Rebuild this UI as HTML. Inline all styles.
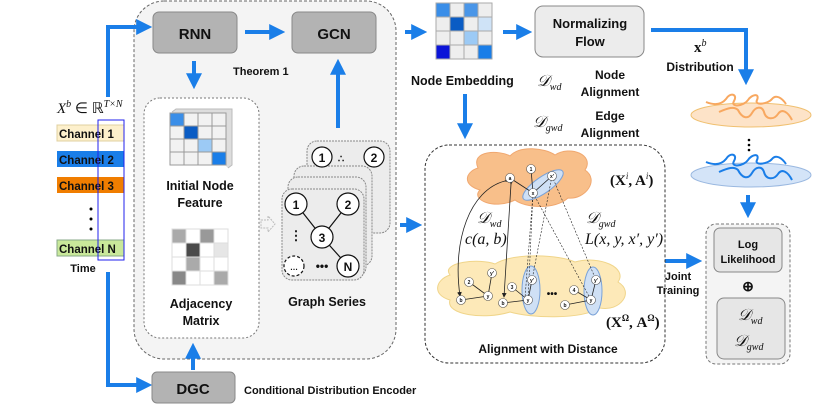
<!DOCTYPE html>
<html><head><meta charset="utf-8"><style>
html,body{margin:0;padding:0;background:#fff}
svg{display:block}
text{font-family:"Liberation Sans",sans-serif;font-weight:bold;fill:#111}
.m{font-family:"Liberation Serif",serif;font-style:italic;font-weight:normal}
.s{font-family:"Liberation Serif",serif;font-weight:bold}
</style></head><body>
<svg width="831" height="406" viewBox="0 0 831 406" xmlns="http://www.w3.org/2000/svg">
<defs>
<marker id="ah" markerWidth="4" markerHeight="4" refX="2.2" refY="2" orient="auto" markerUnits="strokeWidth"><path d="M0,0 L4,2 L0,4 Z" fill="#1a7ee8"/></marker>
<marker id="sa" markerWidth="6" markerHeight="6" refX="5" refY="3" orient="auto"><path d="M0,0 L6,3 L0,6 Z" fill="#222"/></marker>
</defs>
<rect x="134" y="1" width="262" height="358" rx="30" fill="#f4f4f4" stroke="#666" stroke-dasharray="3,2"/>
<rect x="153" y="12" width="84" height="41" rx="6" fill="#b3b3b3" stroke="#888"/>
<text x="195" y="39" font-size="15" text-anchor="middle" font-weight="normal">RNN</text>
<rect x="292" y="12" width="84" height="41" rx="6" fill="#b3b3b3" stroke="#888"/>
<text x="334" y="39" font-size="15" text-anchor="middle" font-weight="normal">GCN</text>
<g stroke="#1a7ee8" stroke-width="4" fill="none" marker-end="url(#ah)">
<line x1="245" y1="32" x2="278" y2="32"/>
<line x1="194" y1="61" x2="194" y2="82"/>
<line x1="338" y1="128" x2="338" y2="66"/>
<line x1="193" y1="370" x2="193" y2="350"/>
<path d="M108,97 L108,27 L145,27"/>
<path d="M108,272 L108,385 L145,385"/>
<line x1="405" y1="32" x2="420" y2="32"/>
<line x1="503" y1="32" x2="525" y2="32"/>
<path d="M651,30 L746,30 L746,78"/>
<line x1="465" y1="94" x2="465" y2="132"/>
<line x1="400" y1="225" x2="415" y2="225"/>
<line x1="652" y1="261" x2="695" y2="261"/>
<line x1="748" y1="195" x2="748" y2="211"/>
</g>
<text x="233" y="75" font-size="11">Theorem 1</text>
<rect x="144" y="98" width="115" height="240" rx="16" fill="#fff" stroke="#777" stroke-dasharray="2,2"/>
<path d="M172,112 l4,-3 h56 v56 l-4,3" fill="#ddd" stroke="#bbb"/>
<g stroke="#999" stroke-width="1">
<rect x="170" y="113" width="14" height="13" fill="#3a8ee8"/><rect x="184" y="113" width="14" height="13" fill="#f2f2f2"/><rect x="198" y="113" width="14" height="13" fill="#f2f2f2"/><rect x="212" y="113" width="14" height="13" fill="#f2f2f2"/>
<rect x="170" y="126" width="14" height="13" fill="#f2f2f2"/><rect x="184" y="126" width="14" height="13" fill="#0a5cc4"/><rect x="198" y="126" width="14" height="13" fill="#f2f2f2"/><rect x="212" y="126" width="14" height="13" fill="#f2f2f2"/>
<rect x="170" y="139" width="14" height="13" fill="#f2f2f2"/><rect x="184" y="139" width="14" height="13" fill="#f2f2f2"/><rect x="198" y="139" width="14" height="13" fill="#9ccaf5"/><rect x="212" y="139" width="14" height="13" fill="#f2f2f2"/>
<rect x="170" y="152" width="14" height="13" fill="#f2f2f2"/><rect x="184" y="152" width="14" height="13" fill="#f2f2f2"/><rect x="198" y="152" width="14" height="13" fill="#f2f2f2"/><rect x="212" y="152" width="14" height="13" fill="#1a7ee8"/>
</g>
<text x="200" y="190" font-size="12.5" text-anchor="middle">Initial Node</text>
<text x="200" y="207" font-size="12.5" text-anchor="middle">Feature</text>
<g stroke="#ddd" stroke-width="1">
<rect x="172" y="229" width="14" height="14" fill="#aaa"/><rect x="186" y="229" width="14" height="14" fill="#fff"/><rect x="200" y="229" width="14" height="14" fill="#999"/><rect x="214" y="229" width="14" height="14" fill="#fff"/>
<rect x="172" y="243" width="14" height="14" fill="#fff"/><rect x="186" y="243" width="14" height="14" fill="#4a4a4a"/><rect x="200" y="243" width="14" height="14" fill="#fff"/><rect x="214" y="243" width="14" height="14" fill="#e6e6e6"/>
<rect x="172" y="257" width="14" height="14" fill="#fff"/><rect x="186" y="257" width="14" height="14" fill="#aaa"/><rect x="200" y="257" width="14" height="14" fill="#fff"/><rect x="214" y="257" width="14" height="14" fill="#fff"/>
<rect x="172" y="271" width="14" height="14" fill="#888"/><rect x="186" y="271" width="14" height="14" fill="#fff"/><rect x="200" y="271" width="14" height="14" fill="#fff"/><rect x="214" y="271" width="14" height="14" fill="#aaa"/>
</g>
<text x="201" y="308" font-size="12.5" text-anchor="middle">Adjacency</text>
<text x="201" y="325" font-size="12.5" text-anchor="middle">Matrix</text>
<path d="M261,220 h7 v-4 l7,8 l-7,8 v-4 h-7 z" fill="none" stroke="#bbb" stroke-dasharray="2,1"/>
<g stroke="#888" stroke-dasharray="2,1" fill="#ececec">
<rect x="307" y="141" width="83" height="92" rx="10"/>
<rect x="294" y="166" width="78" height="100" rx="10"/>
<rect x="288" y="177" width="78" height="100" rx="10"/>
<rect x="282" y="189" width="82" height="91" rx="10"/>
</g>
<g stroke="#111" stroke-width="1.2" fill="#fff">
<circle cx="322" cy="157" r="10"/><circle cx="374" cy="157" r="10"/>
<line x1="296" y1="204" x2="322" y2="237"/><line x1="348" y1="204" x2="322" y2="237"/><line x1="322" y1="237" x2="348" y2="266"/>
<circle cx="296" cy="204" r="11"/><circle cx="348" cy="204" r="11"/><circle cx="322" cy="237" r="11"/><circle cx="348" cy="266" r="11"/>
<circle cx="294" cy="266" r="10" stroke-dasharray="3,2"/>
</g>
<text x="322" y="162" font-size="12" text-anchor="middle" fill="#9bc1f0" font-weight="normal">1</text>
<text x="374" y="162" font-size="12" text-anchor="middle" fill="#6a9ae8" font-weight="normal">2</text>
<text x="341" y="162" font-size="10" text-anchor="middle">∴</text>
<text x="296" y="209" font-size="12" text-anchor="middle" fill="#1414e6">1</text>
<text x="348" y="209" font-size="12" text-anchor="middle" fill="#1414e6">2</text>
<text x="322" y="242" font-size="12" text-anchor="middle" fill="#1414e6">3</text>
<text x="348" y="271" font-size="12" text-anchor="middle" fill="#1414e6">N</text>
<text x="294" y="270" font-size="8" text-anchor="middle" fill="#1414e6">…</text>
<text x="296" y="240" font-size="13" text-anchor="middle">⋮</text>
<text x="322" y="270" font-size="12" text-anchor="middle">•••</text>
<text x="327" y="306" font-size="12.5" text-anchor="middle">Graph Series</text>
<text x="57" y="113" font-size="15" class="m">X<tspan font-size="10" dy="-6">b</tspan><tspan dy="6" font-style="normal"> ∈ ℝ</tspan><tspan font-size="10" dy="-6">T×N</tspan></text>
<rect x="57" y="125" width="67" height="16" fill="#fdf0cc" stroke="#e0d0a0"/>
<rect x="57" y="151" width="67" height="16" fill="#1a7ee8"/>
<rect x="57" y="177" width="67" height="16" fill="#f07d00"/>
<rect x="57" y="240" width="67" height="16" fill="#c9e89a" stroke="#8a8"/>
<text x="59" y="138" font-size="11.5" font-weight="normal">Channel 1</text>
<text x="59" y="164" font-size="11.5" font-weight="normal">Channel 2</text>
<text x="59" y="190" font-size="11.5" font-weight="normal">Channel 3</text>
<text x="59" y="253" font-size="11.5" font-weight="normal">Channel N</text>
<circle cx="91" cy="209" r="1.5" fill="#000"/><circle cx="91" cy="219" r="1.5" fill="#000"/><circle cx="91" cy="229" r="1.5" fill="#000"/>
<rect x="98" y="120" width="26" height="140" fill="none" stroke="#2222ee" stroke-width="1"/>
<text x="83" y="272" font-size="11" text-anchor="middle" font-weight="normal">Time</text>
<rect x="152" y="372" width="83" height="31" rx="5" fill="#b3b3b3" stroke="#888"/>
<text x="193" y="394" font-size="15" text-anchor="middle" font-weight="normal">DGC</text>
<text x="244" y="394" font-size="11">Conditional Distribution Encoder</text>
<g stroke="#aaa">
<rect x="436" y="3" width="14" height="14" fill="#3a8ee8"/><rect x="450" y="3" width="14" height="14" fill="#eee"/><rect x="464" y="3" width="14" height="14" fill="#4a96e8"/><rect x="478" y="3" width="14" height="14" fill="#eee"/>
<rect x="436" y="17" width="14" height="14" fill="#eee"/><rect x="450" y="17" width="14" height="14" fill="#0a5cc4"/><rect x="464" y="17" width="14" height="14" fill="#eee"/><rect x="478" y="17" width="14" height="14" fill="#cfe3f7"/>
<rect x="436" y="31" width="14" height="14" fill="#eee"/><rect x="450" y="31" width="14" height="14" fill="#eee"/><rect x="464" y="31" width="14" height="14" fill="#9ccaf5"/><rect x="478" y="31" width="14" height="14" fill="#eee"/>
<rect x="436" y="45" width="14" height="14" fill="#0b14d8"/><rect x="450" y="45" width="14" height="14" fill="#eee"/><rect x="464" y="45" width="14" height="14" fill="#eee"/><rect x="478" y="45" width="14" height="14" fill="#1a7ee8"/>
</g>
<text x="411" y="85" font-size="12.5">Node Embedding</text>
<rect x="535" y="6" width="109" height="51" rx="8" fill="#ececec" stroke="#888"/>
<text x="590" y="28" font-size="13" text-anchor="middle">Normalizing</text>
<text x="590" y="46" font-size="13" text-anchor="middle">Flow</text>
<text x="694" y="52" font-size="15" class="s">x<tspan class="m" font-size="10" dy="-6">b</tspan></text>
<text x="700" y="71" font-size="12" text-anchor="middle">Distribution</text>
<text x="537" y="86" font-size="16" class="m">𝒟<tspan font-size="10" dy="4">wd</tspan></text>
<text x="610" y="79" font-size="12" text-anchor="middle">Node</text>
<text x="610" y="96" font-size="12" text-anchor="middle">Alignment</text>
<text x="533" y="127" font-size="16" class="m">𝒟<tspan font-size="10" dy="4">gwd</tspan></text>
<text x="610" y="120" font-size="12" text-anchor="middle">Edge</text>
<text x="610" y="137" font-size="12" text-anchor="middle">Alignment</text>
<rect x="425" y="145" width="240" height="218" rx="24" fill="#fff" stroke="#333" stroke-dasharray="3,2"/>
<path d="M478,168 C470,150 500,150 510,156 C520,145 545,148 555,155 C570,145 595,155 585,170 C600,180 585,200 568,198 C555,210 525,208 515,200 C495,210 470,200 480,190 C462,185 465,172 478,168 Z" fill="#f8bf8a" stroke="#f0a870"/>
<path d="M450,275 C440,262 480,258 495,264 C515,252 560,255 575,262 C600,255 628,268 618,282 C635,292 620,312 600,308 C580,320 530,318 510,312 C485,320 445,315 450,300 C432,295 435,280 450,275 Z" fill="#fde9b8" stroke="#f0d58a"/>
<g fill="#cfe0f5" stroke="#7aa2d8">
<ellipse cx="543" cy="185" rx="24" ry="8" transform="rotate(-35 543 185)"/>
<ellipse cx="531" cy="290" rx="9" ry="24"/>
<ellipse cx="593" cy="291" rx="9" ry="24"/>
</g>
<g stroke="#222" stroke-width="0.8" fill="none">
<line x1="510" y1="178" x2="533" y2="193"/><line x1="531" y1="169" x2="533" y2="193"/><line x1="533" y1="193" x2="552" y2="176"/>
<line x1="461" y1="300" x2="488" y2="296"/><line x1="469" y1="282" x2="488" y2="296"/><line x1="488" y1="296" x2="492" y2="273"/>
<line x1="503" y1="303" x2="528" y2="300"/><line x1="512" y1="287" x2="528" y2="300"/><line x1="528" y1="300" x2="532" y2="280"/>
<line x1="565" y1="305" x2="591" y2="300"/><line x1="574" y1="290" x2="591" y2="300"/><line x1="591" y1="300" x2="596" y2="280"/>
<g stroke-dasharray="2,1.5" stroke-width="0.6">
<line x1="533" y1="193" x2="528" y2="300"/><line x1="552" y1="176" x2="532" y2="280"/>
<line x1="533" y1="193" x2="591" y2="300"/><line x1="552" y1="176" x2="596" y2="280"/>
<line x1="533" y1="193" x2="525" y2="298"/>
</g>
<path d="M505,181 C470,190 452,240 460,296" marker-end="url(#sa)" marker-start="url(#sa)"/>
<line x1="511" y1="184" x2="504" y2="297" marker-end="url(#sa)" marker-start="url(#sa)"/>
</g>
<g stroke="#555" stroke-width="0.6" fill="#fff">
<circle cx="510" cy="178" r="4.5"/><circle cx="531" cy="169" r="4.5"/><circle cx="533" cy="193" r="4.5"/><circle cx="552" cy="176" r="4.5"/>
<circle cx="461" cy="300" r="4.5"/><circle cx="469" cy="282" r="4.5"/><circle cx="488" cy="296" r="4.5"/><circle cx="492" cy="273" r="4.5"/>
<circle cx="503" cy="303" r="4.5"/><circle cx="512" cy="287" r="4.5"/><circle cx="528" cy="300" r="4.5"/><circle cx="532" cy="280" r="4.5"/>
<circle cx="565" cy="305" r="4.5"/><circle cx="574" cy="290" r="4.5"/><circle cx="591" cy="300" r="4.5"/><circle cx="596" cy="280" r="4.5"/>
</g>
<g font-size="5" text-anchor="middle">
<text x="510" y="180" fill="#22c">a</text><text x="531" y="171" fill="#22c">1</text><text x="533" y="195" fill="#22c">x</text><text x="552" y="178" fill="#22c">x'</text>
<text x="461" y="302" fill="#22c">b</text><text x="469" y="284" fill="#22c">2</text><text x="488" y="298" fill="#22c">y</text><text x="492" y="275" fill="#22c">y'</text>
<text x="503" y="305" fill="#e80">b</text><text x="512" y="289" fill="#e80">3</text><text x="528" y="302" fill="#e80">y</text><text x="532" y="282" fill="#e80">y'</text>
<text x="565" y="307" fill="#292">b</text><text x="574" y="292" fill="#292">4</text><text x="591" y="302" fill="#292">y</text><text x="596" y="282" fill="#292">y'</text>
</g>
<text x="552" y="297" font-size="10" text-anchor="middle">•••</text>
<text x="610" y="185" font-size="15" class="s">(X<tspan font-size="9" dy="-6" class="m">i</tspan><tspan dy="6">, A</tspan><tspan font-size="9" dy="-6" class="m">i</tspan><tspan dy="6">)</tspan></text>
<text x="606" y="327" font-size="15" class="s">(X<tspan font-size="9" dy="-6">Ω</tspan><tspan dy="6">, A</tspan><tspan font-size="9" dy="-6">Ω</tspan><tspan dy="6">)</tspan></text>
<text x="477" y="223" font-size="16" class="m">𝒟<tspan font-size="10" dy="4">wd</tspan></text>
<text x="465" y="244" font-size="16" class="m">c(a, b)</text>
<text x="586" y="223" font-size="16" class="m">𝒟<tspan font-size="10" dy="4">gwd</tspan></text>
<text x="585" y="244" font-size="16" class="m">L(x, y, x′, y′)</text>
<text x="548" y="353" font-size="12" text-anchor="middle">Alignment with Distance</text>
<text x="678" y="280" font-size="11" text-anchor="middle">Joint</text>
<text x="678" y="294" font-size="11" text-anchor="middle">Training</text>
<ellipse cx="751" cy="115" rx="60" ry="12" fill="#fde3c8" stroke="#f0c070"/>
<path d="M706,102 C716,106 722,104 726,99 C730,92 738,94 734,101 C730,108 744,106 748,100 C752,94 760,93 757,100 C754,106 768,104 772,99 C776,94 782,98 786,104" fill="none" stroke="#f8a860" stroke-width="2"/>
<path d="M719,112 C728,108 734,106 738,110 C742,118 748,120 752,113 C756,106 762,106 764,112 C766,120 774,120 778,114 C782,108 788,112 792,120" fill="none" stroke="#f8a860" stroke-width="2"/>
<circle cx="749" cy="140" r="1.3" fill="#000"/><circle cx="749" cy="145" r="1.3" fill="#000"/><circle cx="749" cy="150" r="1.3" fill="#000"/>
<ellipse cx="751" cy="175" rx="60" ry="12" fill="#d4e4f8" stroke="#9ab8e0"/>
<path d="M706,162 C716,166 722,164 726,159 C730,152 738,154 734,161 C730,168 744,166 748,160 C752,154 760,153 757,160 C754,166 768,164 772,159 C776,154 782,158 786,164" fill="none" stroke="#1a7ee8" stroke-width="2"/>
<path d="M719,172 C728,168 734,166 738,170 C742,178 748,180 752,173 C756,166 762,166 764,172 C766,180 774,180 778,174 C782,168 788,172 792,180" fill="none" stroke="#1a7ee8" stroke-width="2"/>
<rect x="706" y="224" width="84" height="140" rx="10" fill="#f4f4f4" stroke="#777" stroke-dasharray="3,2"/>
<rect x="714" y="228" width="68" height="44" rx="6" fill="#e6e6e6" stroke="#888"/>
<text x="748" y="248" font-size="11" text-anchor="middle">Log</text>
<text x="748" y="263" font-size="11" text-anchor="middle">Likelihood</text>
<text x="748" y="291" font-size="14" text-anchor="middle" font-weight="normal">⊕</text>
<rect x="717" y="298" width="68" height="61" rx="7" fill="#e6e6e6" stroke="#888"/>
<text x="738" y="320" font-size="16" class="m">𝒟<tspan font-size="10" dy="4">wd</tspan></text>
<text x="734" y="346" font-size="16" class="m">𝒟<tspan font-size="10" dy="4">gwd</tspan></text>
</svg>
</body></html>
